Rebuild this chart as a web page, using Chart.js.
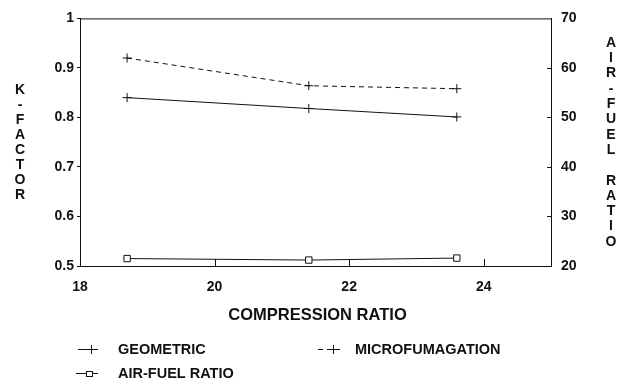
<!DOCTYPE html>
<html>
<head>
<meta charset="utf-8">
<script src="https://cdn.jsdelivr.net/npm/chart.js@4.4.1/dist/chart.umd.min.js"></script>
<style>
  html, body { margin: 0; padding: 0; background: #fff; }
  #wrap { width: 620px; height: 381px; position: relative; }
</style>
</head>
<body>
<div id="wrap"><canvas id="c" width="620" height="381"></canvas></div>
<script>
// ---- data ----
const compressionRatio = [18.7, 21.4, 23.6];
const geometric = [0.84, 0.818, 0.801];
const microfumagation = [0.92, 0.864, 0.858];
const airFuelRatio = [21.5, 21.2, 21.6];
const xTicks = [18, 20, 22, 24];
const kTicks = [0.5, 0.6, 0.7, 0.8, 0.9, 1];
const afTicks = [20, 30, 40, 50, 60, 70];
const xTitle = 'COMPRESSION RATIO';
const leftTitle = 'K-FACTOR';
const rightTitle = 'AIR-FUEL RATIO';
const seriesLabels = ['GEOMETRIC', 'MICROFUMAGATION', 'AIR-FUEL RATIO'];

const INK = '#111';
const FONT = '"Liberation Sans", Arial, sans-serif';

function pts(ys) { return compressionRatio.map((x, i) => ({ x: x, y: ys[i] })); }

const decor = {
  id: 'decor',
  afterDraw(chart) {
    const ctx = chart.ctx;
    const a = chart.chartArea;
    const xs = chart.scales.x, y2 = chart.scales.y2;
    ctx.save();
    ctx.strokeStyle = INK;
    ctx.lineWidth = 1;
    // top frame
    ctx.beginPath();
    ctx.moveTo(a.left, a.top + 0.5);
    ctx.lineTo(a.right, a.top + 0.5);
    ctx.stroke();
    // inward x ticks
    xTicks.slice(1).forEach(v => {
      const px = Math.round(xs.getPixelForValue(v)) + 0.5;
      ctx.beginPath();
      ctx.moveTo(px, a.bottom);
      ctx.lineTo(px, a.bottom - 7);
      ctx.stroke();
    });
    // inward right ticks
    afTicks.slice(1, -1).forEach(v => {
      const py = Math.round(y2.getPixelForValue(v)) + 0.5;
      ctx.beginPath();
      ctx.moveTo(a.right, py);
      ctx.lineTo(a.right - 4, py);
      ctx.stroke();
    });
    // titles
    ctx.fillStyle = INK;
    ctx.textAlign = 'center';
    ctx.textBaseline = 'middle';
    ctx.font = 'bold 16.5px ' + FONT;
    ctx.fillText(xTitle, (a.left + a.right) / 2 + 2, 315);
    ctx.font = 'bold 14px ' + FONT;
    leftTitle.split('').forEach((ch, i) => ctx.fillText(ch, 20, 90 + i * 15));
    rightTitle.split('').forEach((ch, i) => { if (ch !== ' ') ctx.fillText(ch, 611, 43 + i * 15.3); });
    // legend
    const items = [
      { ds: 0, x0: 78, x1: 98, mx: 91, y: 349, tx: 118 },
      { ds: 1, x0: 318, x1: 340, mx: 333, y: 349, tx: 355 },
      { ds: 2, x0: 76, x1: 98, mx: 89, y: 373, tx: 118 }
    ];
    items.forEach(it => {
      const d = chart.data.datasets[it.ds];
      ctx.save();
      ctx.setLineDash(d.borderDash || []);
      ctx.beginPath();
      ctx.moveTo(it.x0, it.y + 0.5);
      ctx.lineTo(it.x1, it.y + 0.5);
      ctx.stroke();
      ctx.setLineDash([]);
      if (d.pointStyle === 'rect') {
        ctx.fillStyle = '#fff';
        ctx.fillRect(it.mx - 3, it.y - 2, 6, 5);
        ctx.strokeRect(it.mx - 2.5, it.y - 1.5, 6, 5);
      } else {
        ctx.beginPath();
        ctx.moveTo(it.mx + 0.5, it.y - 4);
        ctx.lineTo(it.mx + 0.5, it.y + 5);
        ctx.moveTo(it.mx - 4, it.y + 0.5);
        ctx.lineTo(it.mx + 5, it.y + 0.5);
        ctx.stroke();
      }
      ctx.restore();
      ctx.fillStyle = INK;
      ctx.textAlign = 'left';
      ctx.font = 'bold 14.5px ' + FONT;
      ctx.fillText(d.label, it.tx, it.y + 1);
    });
    ctx.restore();
  }
};

new Chart(document.getElementById('c'), {
  type: 'line',
  data: {
    datasets: [
      { label: seriesLabels[0], data: pts(geometric), yAxisID: 'y',
        borderColor: INK, borderWidth: 1, pointStyle: 'cross', pointRadius: 4.5,
        pointBorderColor: INK, pointBorderWidth: 1, fill: false, tension: 0 },
      { label: seriesLabels[1], data: pts(microfumagation), yAxisID: 'y',
        borderColor: INK, borderWidth: 1, borderDash: [5, 4], pointStyle: 'cross', pointRadius: 4.5,
        pointBorderColor: INK, pointBorderWidth: 1, fill: false, tension: 0 },
      { label: seriesLabels[2], data: pts(airFuelRatio), yAxisID: 'y2',
        borderColor: INK, borderWidth: 1, pointStyle: 'rect', pointRadius: 4.5,
        pointBackgroundColor: '#fff', pointBorderColor: INK, pointBorderWidth: 1, fill: false, tension: 0 }
    ]
  },
  options: {
    responsive: false,
    animation: false,
    layout: { padding: { top: 17, left: 0, right: 0, bottom: 0 } },
    plugins: { legend: { display: false }, tooltip: { enabled: false } },
    scales: {
      x: {
        type: 'linear', min: 18, max: 25,
        afterBuildTicks: s => { s.ticks = xTicks.map(v => ({ value: v })); },
        afterFit: s => { s.height = 115; },
        grid: { display: true, drawOnChartArea: false, drawTicks: false },
        border: { display: true, color: INK, width: 1 },
        ticks: { color: INK, padding: 13, maxRotation: 0, font: { family: FONT, size: 14, weight: 'bold' } }
      },
      y: {
        type: 'linear', position: 'left', min: 0.5, max: 1,
        afterBuildTicks: s => { s.ticks = kTicks.map(v => ({ value: v })); },
        afterFit: s => { s.width = 80; },
        grid: { display: true, drawOnChartArea: false, drawTicks: true, tickLength: 3, color: INK },
        border: { display: true, color: INK, width: 1 },
        ticks: { color: INK, padding: 3, font: { family: FONT, size: 14, weight: 'bold' },
          callback: v => (v === 1 ? '1' : v.toFixed(1)) }
      },
      y2: {
        type: 'linear', position: 'right', min: 20, max: 70,
        afterBuildTicks: s => { s.ticks = afTicks.map(v => ({ value: v })); },
        afterFit: s => { s.width = 69; },
        grid: { display: true, drawOnChartArea: false, drawTicks: false },
        border: { display: true, color: INK, width: 1 },
        ticks: { color: INK, padding: 10, font: { family: FONT, size: 14, weight: 'bold' } }
      }
    }
  },
  plugins: [decor]
});
</script>
</body>
</html>
